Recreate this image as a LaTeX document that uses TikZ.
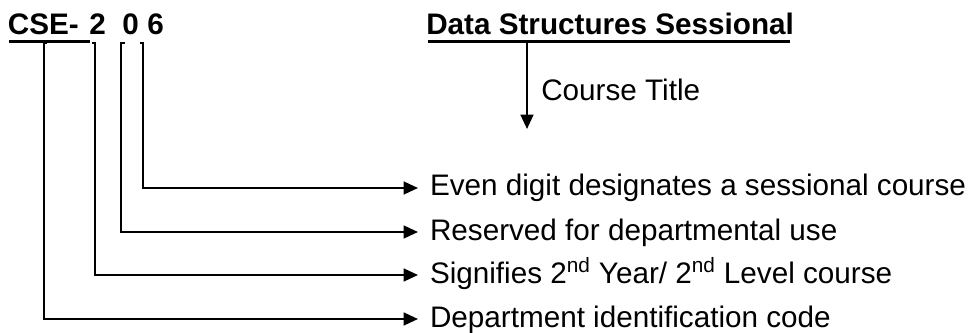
\documentclass[tikz,border=0pt]{standalone}
\usepackage{fontspec}
\setmainfont{Liberation Sans}
\usetikzlibrary{arrows.meta}

\begin{document}
\begin{tikzpicture}[x=0.025cm,y=-0.025cm]
  \tikzset{code/.style = {font=\fontsize{21.1}{25}\selectfont\bfseries, inner sep=0, anchor=base west}}
  \tikzset{note/.style = {font=\fontsize{21.1}{25}\selectfont, inner xsep=0, inner ysep=0,
      outer xsep=0.3cm, outer ysep=0, text height=15pt, text depth=3.62pt, anchor=west}}
  \tikzset{line/.style = {draw, line width=1.6pt, -{Triangle[length=0.36cm,width=0.32cm]}}}
  \tikzset{uline/.style = {line width=1.6pt}}

  \useasboundingbox (0,0) rectangle (977,333);

  %%%%%%%%%%%% course code

  \node[code] (cse) at (7.7,35) {CSE-};
  \node[code] (two) at (89,35) {2};
  \node[code] (zero) at (122,35) {0};
  \node[code] (six) at (147,35) {6};
  \draw[uline] (9,41.5) -- (90,41.5);

  %%%%%%%%%%%% course title

  \node[code] (title) at (426,35) {Data Structures Sessional};
  \draw[uline] (428,41.5) -- (790,41.5);

  \coordinate (ttop) at (527,43);
  \coordinate (tend) at (527,129);
  \draw[line] (ttop) -- (tend);
  \node[font=\fontsize{21.1}{25}\selectfont, inner sep=0, anchor=base west]
  (ctitle) at (541,101) {Course Title};

  %%%%%%%%%%%% meanings

  \node[note] (even) at (418,188) {Even digit designates a sessional course};
  \node[note] (resv) at (418,232) {Reserved for departmental use};
  \node[note] (year) at (418,275)
  {Signifies 2\textsuperscript{nd} Year/ 2\textsuperscript{nd} Level course};
  \node[note] (dept) at (418,319) {Department identification code};

  %%%%%%%%%%%% leaders

  \coordinate (k6) at (140,43);   \coordinate (h6) at (143,43);
  \coordinate (k0) at (125,43);   \coordinate (h0) at (121,43);
  \coordinate (k2) at (92,43);    \coordinate (h2) at (95,43);
  \coordinate (kc) at (47,43);    \coordinate (hc) at (44,43);

  \draw[line] (k6) -- (h6) |- (even);
  \draw[line] (k0) -- (h0) |- (resv);
  \draw[line] (k2) -- (h2) |- (year);
  \draw[line] (kc) -- (hc) |- (dept);

\end{tikzpicture}
\end{document}
